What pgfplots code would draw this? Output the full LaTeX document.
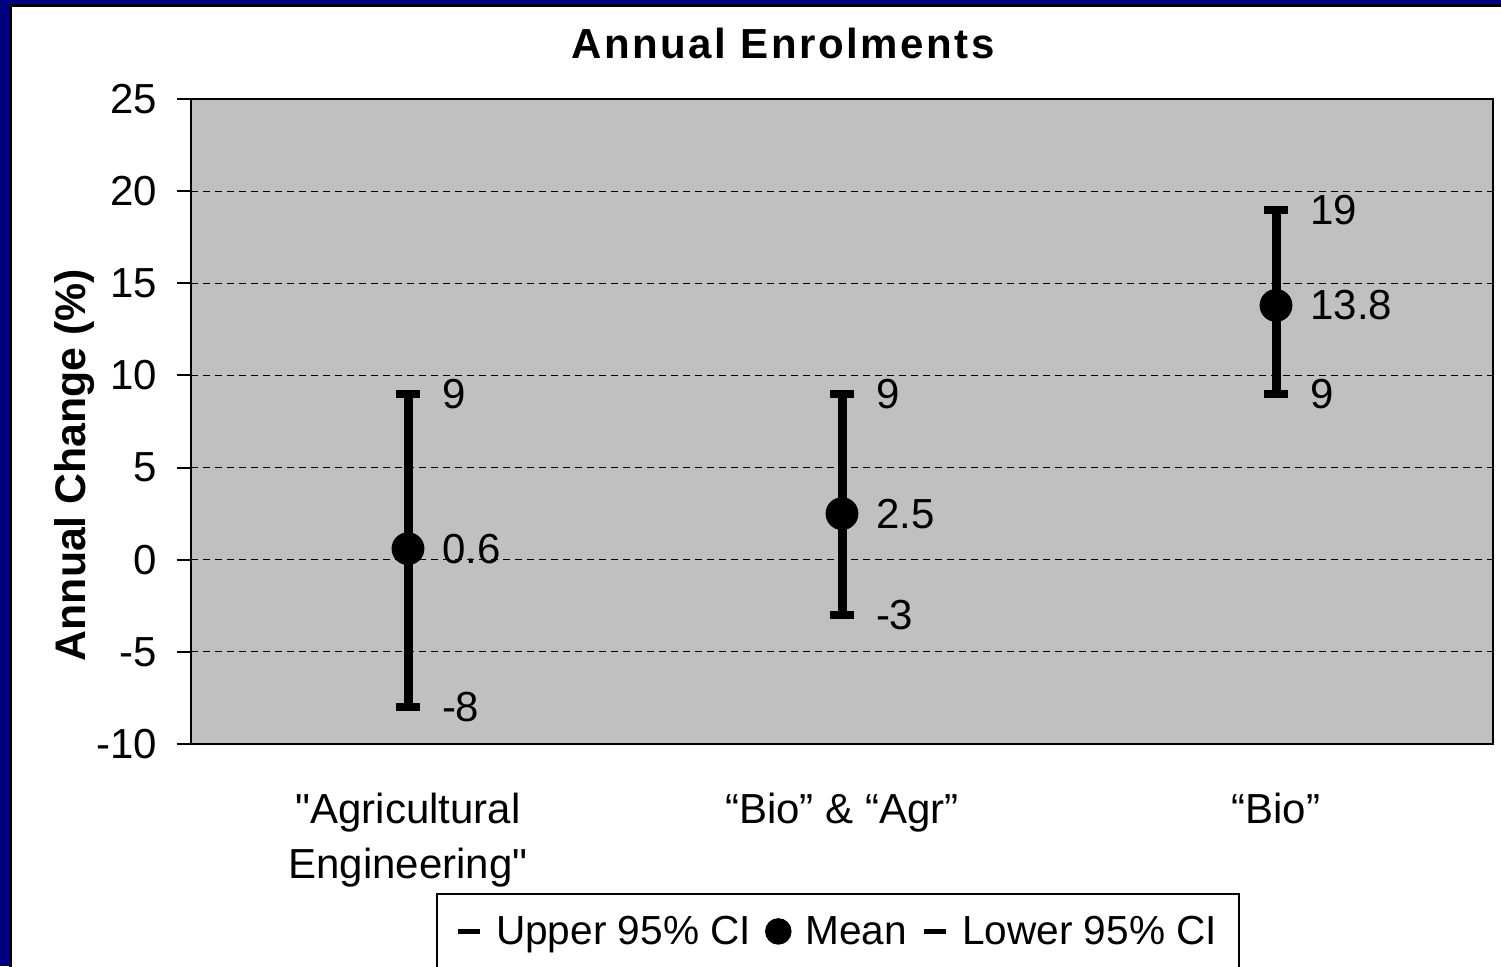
\documentclass[border=0pt]{standalone}
\usepackage{fontspec}
\setmainfont{Liberation Sans}
\newfontfamily\titlefont{Liberation Sans}[LetterSpace=6]
\usepackage{pgfplots}
\pgfplotsset{compat=1.18}
\usepackage{pgfplotstable}
\definecolor{navyframe}{HTML}{000080}
\definecolor{plotgray}{HTML}{C0C0C0}

\pgfplotstableread{
x mean lo hi meanlab lolab hilab
0 0.6 -8 9 0.6 -8 9
1 2.5 -3 9 2.5 -3 9
2 13.8 9 19 13.8 9 19
}\ci

\newcommand{\bigfont}{\fontsize{21}{27.5}\selectfont}
\newcommand{\legfont}{\fontsize{20.3}{24}\selectfont}

\begin{document}
\begin{tikzpicture}
\useasboundingbox (0,0) rectangle (750.5pt,483pt);
\fill[navyframe] (0,0) rectangle (750.5pt,483pt);
\filldraw[fill=white, draw=black, line width=1.5pt] (5.25pt,-10pt) rectangle (760pt,480.25pt);
\begin{axis}[
  width=651pt, height=322.5pt, scale only axis,
  at={(95.5pt,111pt)}, anchor=south west,
  xmin=-0.5, xmax=2.5, ymin=-10, ymax=25,
  ytick={-10,-5,0,5,10,15,20,25},
  xtick={0,1,2},
  xticklabels={{\textquotedbl Agricultural\\Engineering\textquotedbl},{“Bio” \& “Agr”},{“Bio”}},
  xticklabel style={align=center, anchor=north, yshift=-14pt},
  yticklabel style={xshift=-6.5pt},
  x tick style={draw=none},
  extra x ticks={-0.5,0.5,1.5,2.5},
  extra x tick labels={},
  extra x tick style={tick align=center, major tick length=14pt, grid=none, tick style={black, line width=1pt}},
  tick pos=left,
  y tick style={black, line width=1pt},
  major tick length=7pt, tick align=outside,
  ymajorgrids,
  major grid style={black, line width=0.6pt, dash pattern=on 3.5pt off 2.5pt},
  axis line style={black, line width=1.4pt},
  axis background/.style={fill=plotgray},
  tick label style={font=\bigfont},
  /pgf/number format/assume math mode=true,
  legend columns=3,
  legend style={at={(0.497,-0.231)}, anchor=north, draw=black, line width=0.75pt, fill=white, font=\legfont, inner sep=9pt,
    /tikz/every odd column/.append style={column sep=5pt},
    /tikz/every even column/.append style={column sep=5pt}},
  legend cell align=left,
]
\addplot[forget plot, black, line width=4.5pt] coordinates {(0,-8) (0,9)};
\addplot[forget plot, black, line width=4.5pt] coordinates {(1,-3) (1,9)};
\addplot[forget plot, black, line width=4.5pt] coordinates {(2,9) (2,19)};

\addplot[only marks, mark=-, mark size=6pt, mark options={line width=4pt, black},
  nodes near coords, point meta=explicit symbolic,
  nodes near coords align={anchor=west},
  every node near coord/.append style={xshift=15pt, inner sep=0pt, font=\bigfont, black},
  legend image code/.code={\draw[black,line width=2.5pt](0pt,0pt)--(11pt,0pt);}]
  table[x=x,y=hi,meta=hilab]{\ci};
\addlegendentry{Upper 95\% CI}

\addplot[only marks, mark=*, mark size=8pt, mark options={black, fill=black},
  nodes near coords, point meta=explicit symbolic,
  nodes near coords align={anchor=west},
  every node near coord/.append style={xshift=17pt, inner sep=0pt, font=\bigfont, black},
  legend image code/.code={\fill[black](6.25pt,0pt) circle (6.25pt);}]
  table[x=x,y=mean,meta=meanlab]{\ci};
\addlegendentry{Mean\vphantom{p\%}}

\addplot[only marks, mark=-, mark size=6pt, mark options={line width=4pt, black},
  nodes near coords, point meta=explicit symbolic,
  nodes near coords align={anchor=west},
  every node near coord/.append style={xshift=15pt, inner sep=0pt, font=\bigfont, black},
  legend image code/.code={\draw[black,line width=2.5pt](0pt,0pt)--(11pt,0pt);}]
  table[x=x,y=lo,meta=lolab]{\ci};
\addlegendentry{Lower 95\% CI}
\end{axis}
\node[font=\bigfont\titlefont\bfseries] at (391.5pt,461.5pt) {Annual Enrolments};
\node[rotate=90, font=\fontsize{21.4}{25}\selectfont\bfseries] at (37.5pt,250.5pt) {Annual Change (\%)};
\end{tikzpicture}
\end{document}
